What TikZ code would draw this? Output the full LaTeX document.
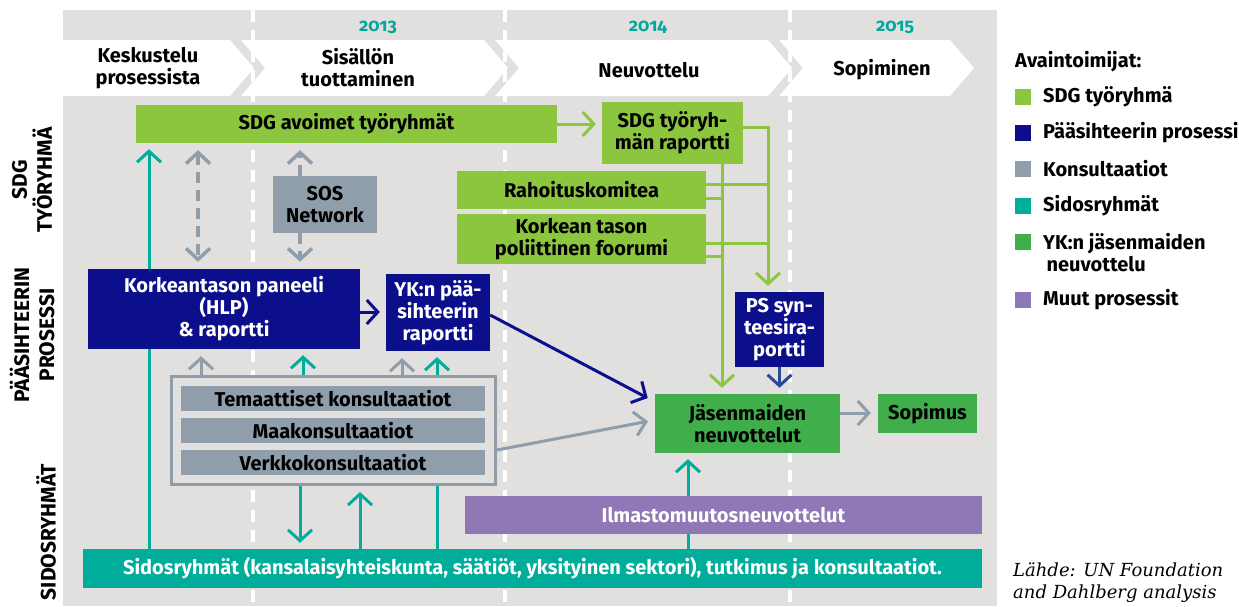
\documentclass[tikz,border=0pt]{standalone}
\usepackage{fontspec}
\setmainfont{Fira Sans}
\newfontfamily\yearfont[Numbers=OldStyle]{Fira Sans}
\newfontfamily\sourcefont{DejaVu Serif}
\usetikzlibrary{arrows.meta}

\definecolor{bggray}{HTML}{E1E0DE}
\definecolor{sdggreen}{HTML}{8CC63F}
\definecolor{sgblue}{HTML}{0C0F8C}
\definecolor{konsgray}{HTML}{8F9EAA}
\definecolor{sidosteal}{HTML}{00AD9A}
\definecolor{ykgreen}{HTML}{40AE4A}
\definecolor{muutpurple}{HTML}{8F78B5}
\definecolor{psblue}{HTML}{2C4A9B}
\definecolor{yearteal}{HTML}{00A99D}

\pgfdeclarelayer{background}
\pgfsetlayers{background,main}

\begin{document}
\begin{tikzpicture}[x=1pt,y=-1pt,
    every node/.style={font=\fontsize{20}{22}\selectfont\bfseries, inner sep=0pt, align=center},
    boxsize/.style 2 args={minimum width=#1pt, minimum height=#2pt},
    sdgbox/.style={fill=sdggreen},
    sgbox/.style={fill=sgblue, text=white},
    konsbox/.style={fill=konsgray},
    ykbox/.style={fill=ykgreen},
    sidosbox/.style={fill=sidosteal, text=white},
    muutbox/.style={fill=muutpurple, text=white},
    rowlabel/.style={rotate=90, font=\fontsize{21}{25}\selectfont\bfseries},
    yearlabel/.style={text=yearteal, font=\yearfont\fontsize{18}{20}\selectfont\bfseries},
    legkey/.style={minimum size=16pt},
    openhead/.style={-{Straight Barb[length=11pt,width=24pt]}},
    divider/.style={white, line width=4pt, dash pattern=on 12pt off 8pt},
    sdgline/.style={draw=sdggreen, line width=3pt},
    sdgarrow/.style={sdgline, openhead, shorten >=6pt},
    sgarrow/.style={draw=sgblue, line width=3pt, openhead, shorten >=6pt},
    psarrow/.style={draw=psblue, line width=3pt, openhead, shorten >=6pt},
    konsarrow/.style={draw=konsgray, line width=3pt, openhead, shorten >=7pt},
    tealarrow/.style={draw=sidosteal, line width=3pt, openhead, shorten >=6pt},
    konsdashed/.style={draw=konsgray, line width=3.5pt, dash pattern=on 11pt off 7pt, shorten >=7pt}]

    \useasboundingbox (0,0) rectangle (1239,606);

    % phases and years
    \node (phase1) at (148,68) {Keskustelu\\prosessista};
    \node (phase2) at (358,68) {Sisällön\\tuottaminen};
    \node (phase3) at (649,70) {Neuvottelu};
    \node (phase4) at (882,70) {Sopiminen};
    \node[yearlabel] (y2013) at (378,27) {2013};
    \node[yearlabel] (y2014) at (648,27) {2014};
    \node[yearlabel] (y2015) at (895,27) {2015};

    % rows
    \node[rowlabel] (rowsdg) at (32,180) {SDG\\TYÖRYHMÄ};
    \node[rowlabel] (rowsg) at (32,335) {PÄÄSIHTEERIN\\PROSESSI};
    \node[rowlabel] (rowsidos) at (46,532) {SIDOSRYHMÄT};

    % boxes
    \node[sdgbox, boxsize={421}{38}] (avoimet) at (346.5,124) {SDG avoimet työryhmät};
    \node[sdgbox, boxsize={141}{62}] (tyoraportti) at (672.5,133) {SDG työryh-\\män raportti};
    \node[sdgbox, boxsize={249}{38}] (rahoitus) at (581.5,190) {Rahoituskomitea};
    \node[sdgbox, boxsize={249}{50}] (foorumi) at (581.5,239) {Korkean tason\\poliittinen foorumi};
    \node[konsbox, boxsize={104}{57}] (sos) at (325,204.5) {SOS\\Network};
    \node[sgbox, boxsize={272}{80}] (hlp) at (224,309) {Korkeantason paneeli\\(HLP)\\\& raportti};
    \node[sgbox, boxsize={104}{77}] (ykraportti) at (438,312.5) {YK:n pää-\\sihteerin\\raportti};
    \node[sgbox, boxsize={89}{75}] (ps) at (779.5,329.5) {PS syn-\\teesira-\\portti};
    \node[ykbox, boxsize={185}{59}] (jasen) at (747.5,423.5) {Jäsenmaiden\\neuvottelut};
    \node[ykbox, boxsize={99}{39}] (sopimus) at (927.5,413.5) {Sopimus};
    \node[draw=konsgray, line width=3pt, fill=bggray, boxsize={324}{108}] (konsryhma) at (333.5,430.5) {};
    \node[konsbox, boxsize={304}{25}] (temaattiset) at (333,398.5) {Temaattiset konsultaatiot};
    \node[konsbox, boxsize={304}{25}] (maakons) at (333,430.5) {Maakonsultaatiot};
    \node[konsbox, boxsize={304}{25}] (verkkokons) at (333,462.5) {Verkkokonsultaatiot};
    \node[muutbox, boxsize={517}{38}] (ilmasto) at (723.5,515) {Ilmastomuutosneuvottelut};
    \node[sidosbox, boxsize={899}{39}] (sidos) at (532.5,568.5) {Sidosryhmät (kansalaisyhteiskunta, säätiöt, yksityinen sektori), tutkimus ja konsultaatiot.};

    % legend
    \node[anchor=west] (legtitle) at (1015,62) {Avaintoimijat:};
    \node[legkey, fill=sdggreen] (key1) at (1023,97) {};
    \node[anchor=west] (leg1) at (1043,97) {SDG työryhmä};
    \node[legkey, fill=sgblue] (key2) at (1023,133) {};
    \node[anchor=west] (leg2) at (1043,133) {Pääsihteerin prosessi};
    \node[legkey, fill=konsgray] (key3) at (1023,169) {};
    \node[anchor=west] (leg3) at (1043,169) {Konsultaatiot};
    \node[legkey, fill=sidosteal] (key4) at (1023,206) {};
    \node[anchor=west] (leg4) at (1043,206) {Sidosryhmät};
    \node[legkey, fill=ykgreen] (key5) at (1023,242) {};
    \node[anchor=west, align=left] (leg5) at (1043,252.5) {YK:n jäsenmaiden\\\,neuvottelu};
    \node[legkey, fill=muutpurple] (key6) at (1023,300) {};
    \node[anchor=west] (leg6) at (1043,300) {Muut prosessit};

    \node[anchor=north west, align=left, font=\sourcefont\itshape\fontsize{18}{22}\selectfont] (source) at (1013,562) {Lähde: UN Foundation\\and Dahlberg analysis};

    \begin{pgfonlayer}{background}
    \fill[bggray] (63,10) rectangle (997,606);
    \draw[divider] (253,10) -- (253,606);
    \draw[divider] (505,10) -- (505,606);
    \draw[divider] (790,10) -- (790,606);
    \fill[white] (63,40) -- (230,40) -- (254,68) -- (230,96) -- (63,96) -- cycle;
    \fill[white] (241,40) -- (484,40) -- (508,68) -- (484,96) -- (241,96) -- (265,68) -- cycle;
    \fill[white] (495,40) -- (768,40) -- (792,68) -- (768,96) -- (495,96) -- (519,68) -- cycle;
    \fill[white] (779,40) -- (950,40) -- (974,68) -- (950,96) -- (779,96) -- (803,68) -- cycle;

    % SDG connectors
    \draw[sdgarrow] (avoimet.east) -- (avoimet.east -| tyoraportti.west);
    \draw[sdgarrow] (tyoraportti.south -| 722,0) -- (jasen.north -| 722,0);
    \draw[sdgarrow] (tyoraportti.east |- 0,127) -| (768,0 |- ps.north);
    \draw[sdgline] (rahoitus.east |- 0,184) -- (769.5,184);
    \draw[sdgline] (rahoitus.east |- 0,198) -- (723.5,198);
    \draw[sdgline] (foorumi.east |- 0,243) -- (769.5,243);
    \draw[sdgline] (foorumi.east |- 0,256) -- (723.5,256);

    % secretary general
    \draw[sgarrow] (hlp.east |- 0,312) -- (ykraportti.west |- 0,312);
    \draw[sgarrow, shorten >=8pt] (ykraportti.east |- 0,315) -- ([yshift=-8pt]jasen.north west);
    \draw[psarrow] (ps.south) -- (ps.south |- jasen.north);

    % consultations
    \draw[konsarrow] (jasen.east |- 0,413) -- (sopimus.west |- 0,413);
    \draw[konsarrow] (konsryhma.east |- 0,450) -- (jasen.west |- 0,420);
    \draw[konsdashed, {Straight Barb[length=11pt,width=24pt]}-{Straight Barb[length=11pt,width=24pt]}, shorten <=7pt] (198,0 |- avoimet.south) -- (198,0 |- hlp.north);
    \draw[konsdashed, openhead] (300,0 |- sos.north) -- (300,0 |- avoimet.south);
    \draw[konsdashed, openhead] (300,0 |- sos.south) -- (300,0 |- hlp.north);
    \draw[konsarrow] (201,0 |- konsryhma.north) -- (201,0 |- hlp.south);
    \draw[konsarrow] (402,0 |- konsryhma.north) -- (402,0 |- ykraportti.south);

    % stakeholders
    \draw[tealarrow] (149,0 |- sidos.north) -- (149,0 |- avoimet.south);
    \draw[tealarrow] (303,0 |- konsryhma.north) -- (303,0 |- hlp.south);
    \draw[tealarrow] (437,0 |- sidos.north) -- (437,0 |- ykraportti.south);
    \draw[tealarrow] (300,0 |- konsryhma.south) -- (300,0 |- sidos.north);
    \draw[tealarrow] (360,0 |- sidos.north) -- (360,0 |- konsryhma.south);
    \draw[tealarrow] (688,0 |- sidos.north) -- (688,0 |- jasen.south);
    \end{pgfonlayer}
\end{tikzpicture}
\end{document}
